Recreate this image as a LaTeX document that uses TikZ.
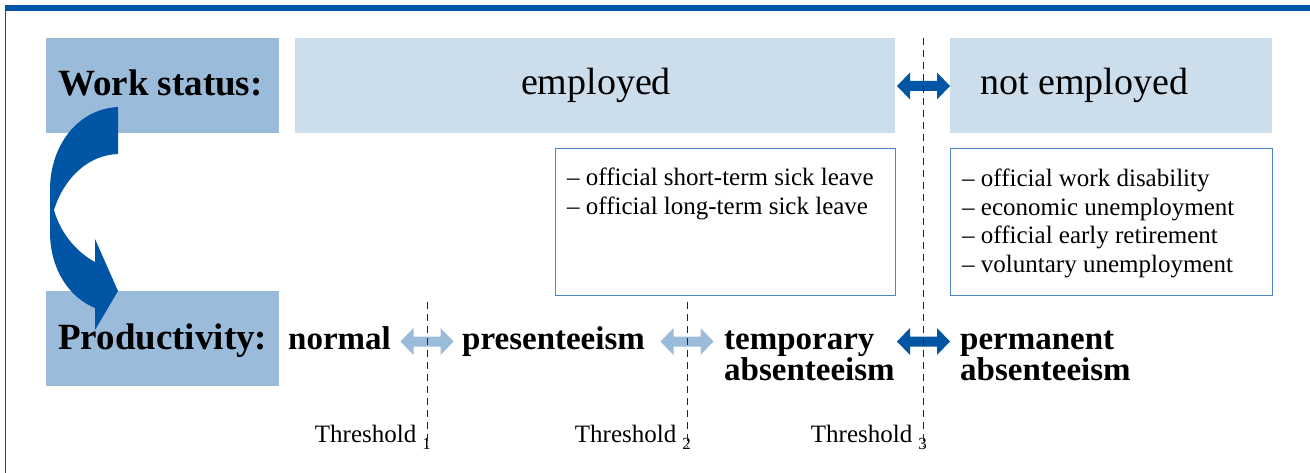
\documentclass[tikz,border=0pt]{standalone}
\usepackage{fontspec}
\setmainfont{Liberation Serif}
\definecolor{dblue}{HTML}{0055A4}
\definecolor{mblue}{HTML}{9BBBDB}
\definecolor{lblue}{HTML}{CCDDEC}
\definecolor{oblue}{HTML}{4A86C8}
\newcommand\dblarrow[3]{\fill[#3, shift={(#1,#2)}] (-26.5,0) -- (-13.5,-13.5) -- (-13.5,-5) -- (13.5,-5) -- (13.5,-13.5) -- (26.5,0) -- (13.5,13.5) -- (13.5,5) -- (-13.5,5) -- (-13.5,13.5) -- cycle;}
\begin{document}
\begin{tikzpicture}[x=1pt,y=-1pt,
  boxA/.style={fill=mblue, draw=none, anchor=north west, inner sep=0},
  boxB/.style={fill=lblue, draw=none, anchor=north west, inner sep=0},
  listbox/.style={draw=oblue, line width=0.9pt, fill=white, anchor=north west, inner sep=0},
  hdr/.style={font=\fontsize{37}{40}\selectfont\bfseries, anchor=base west, inner sep=0},
  big/.style={font=\fontsize{38}{40}\selectfont, anchor=base west, inner sep=0},
  lab/.style={font=\fontsize{33}{29}\selectfont\bfseries, anchor=base west, inner sep=0},
  lst/.style={font=\fontsize{25}{28.4}\selectfont, anchor=base west, inner sep=0},
  thr/.style={font=\fontsize{25}{28}\selectfont, anchor=base east, inner sep=0},
  dashln/.style={dash pattern=on 7pt off 5pt, line width=0.9pt, black!85}]
\useasboundingbox (0,0) rectangle (1310,473);
% frame
\fill[dblue] (5,5) rectangle (1310,11);
\draw[dblue, line width=1.3pt] (5.6,5) -- (5.6,473);
% boxes
\node[boxA, minimum width=233pt, minimum height=95pt] (wsbox) at (46,38) {};
\node[boxB, minimum width=600pt, minimum height=95pt] (empbox) at (295,38) {};
\node[boxB, minimum width=322pt, minimum height=95pt] (nebox) at (950,38) {};
\node[boxA, minimum width=233pt, minimum height=95pt] (prbox) at (46,291) {};
\node[listbox, minimum width=340pt, minimum height=147pt] (sickbox) at (555,148) {};
\node[listbox, minimum width=322pt, minimum height=147pt] (nelist) at (950,148) {};
% curved arrow
\fill[dblue] (118,107) .. controls (78,109) and (50,145) .. (50,190) -- (50,232)
  .. controls (50,270) and (70,298) .. (95,308) -- (95,330) -- (118,291) -- (95,239) -- (95,262)
  .. controls (76,252) and (60,232) .. (54,210) .. controls (64,178) and (88,155) .. (118,154) -- cycle;
% texts
\node[hdr] (ws) at (58,96) {Work status:};
\node[big, anchor=base] (emp) at (596,95) {employed};
\node[big] (nemp) at (980,95) {not employed};
\node[hdr] (pr) at (58,349) {Productivity:};
\node[lab] (normal) at (288,349) {normal};
\node[lab] (pres) at (462,349) {presenteeism};
\node[lab] (temp) at (724,349) {\begin{tabular}[t]{@{}l@{}}temporary\\absenteeism\end{tabular}};
\node[lab] (perm) at (960,349) {\begin{tabular}[t]{@{}l@{}}permanent\\absenteeism\end{tabular}};
\node[lst] (sick) at (567,186) {\begin{tabular}[t]{@{}l@{}}– official short-term sick leave\\– official long-term sick leave\end{tabular}};
\node[lst] (nel) at (962,187) {\begin{tabular}[t]{@{}l@{}}– official work disability\\– economic unemployment\\– official early retirement\\– voluntary unemployment\end{tabular}};
\node[thr] (t1) at (431,442) {Threshold\hspace{6pt}\raisebox{-7pt}{\fontsize{17}{17}\selectfont 1}};
\node[thr] (t2) at (691,442) {Threshold\hspace{6pt}\raisebox{-7pt}{\fontsize{17}{17}\selectfont 2}};
\node[thr] (t3) at (927,442) {Threshold\hspace{6pt}\raisebox{-7pt}{\fontsize{17}{17}\selectfont 3}};
% double arrows
\dblarrow{923.5}{86}{dblue}
\dblarrow{427}{341.5}{mblue}
\dblarrow{687}{341.5}{mblue}
\dblarrow{923.5}{341.5}{dblue}
% dashed thresholds
\coordinate (d1a) at (427,302); \coordinate (d1b) at (427,447);
\coordinate (d2a) at (687,302); \coordinate (d2b) at (687,447);
\coordinate (d3a) at (923,38);  \coordinate (d3b) at (923,447);
\draw[dashln] (d1a) -- (d1b);
\draw[dashln] (d2a) -- (d2b);
\draw[dashln] (d3a) -- (d3b);
\end{tikzpicture}
\end{document}
